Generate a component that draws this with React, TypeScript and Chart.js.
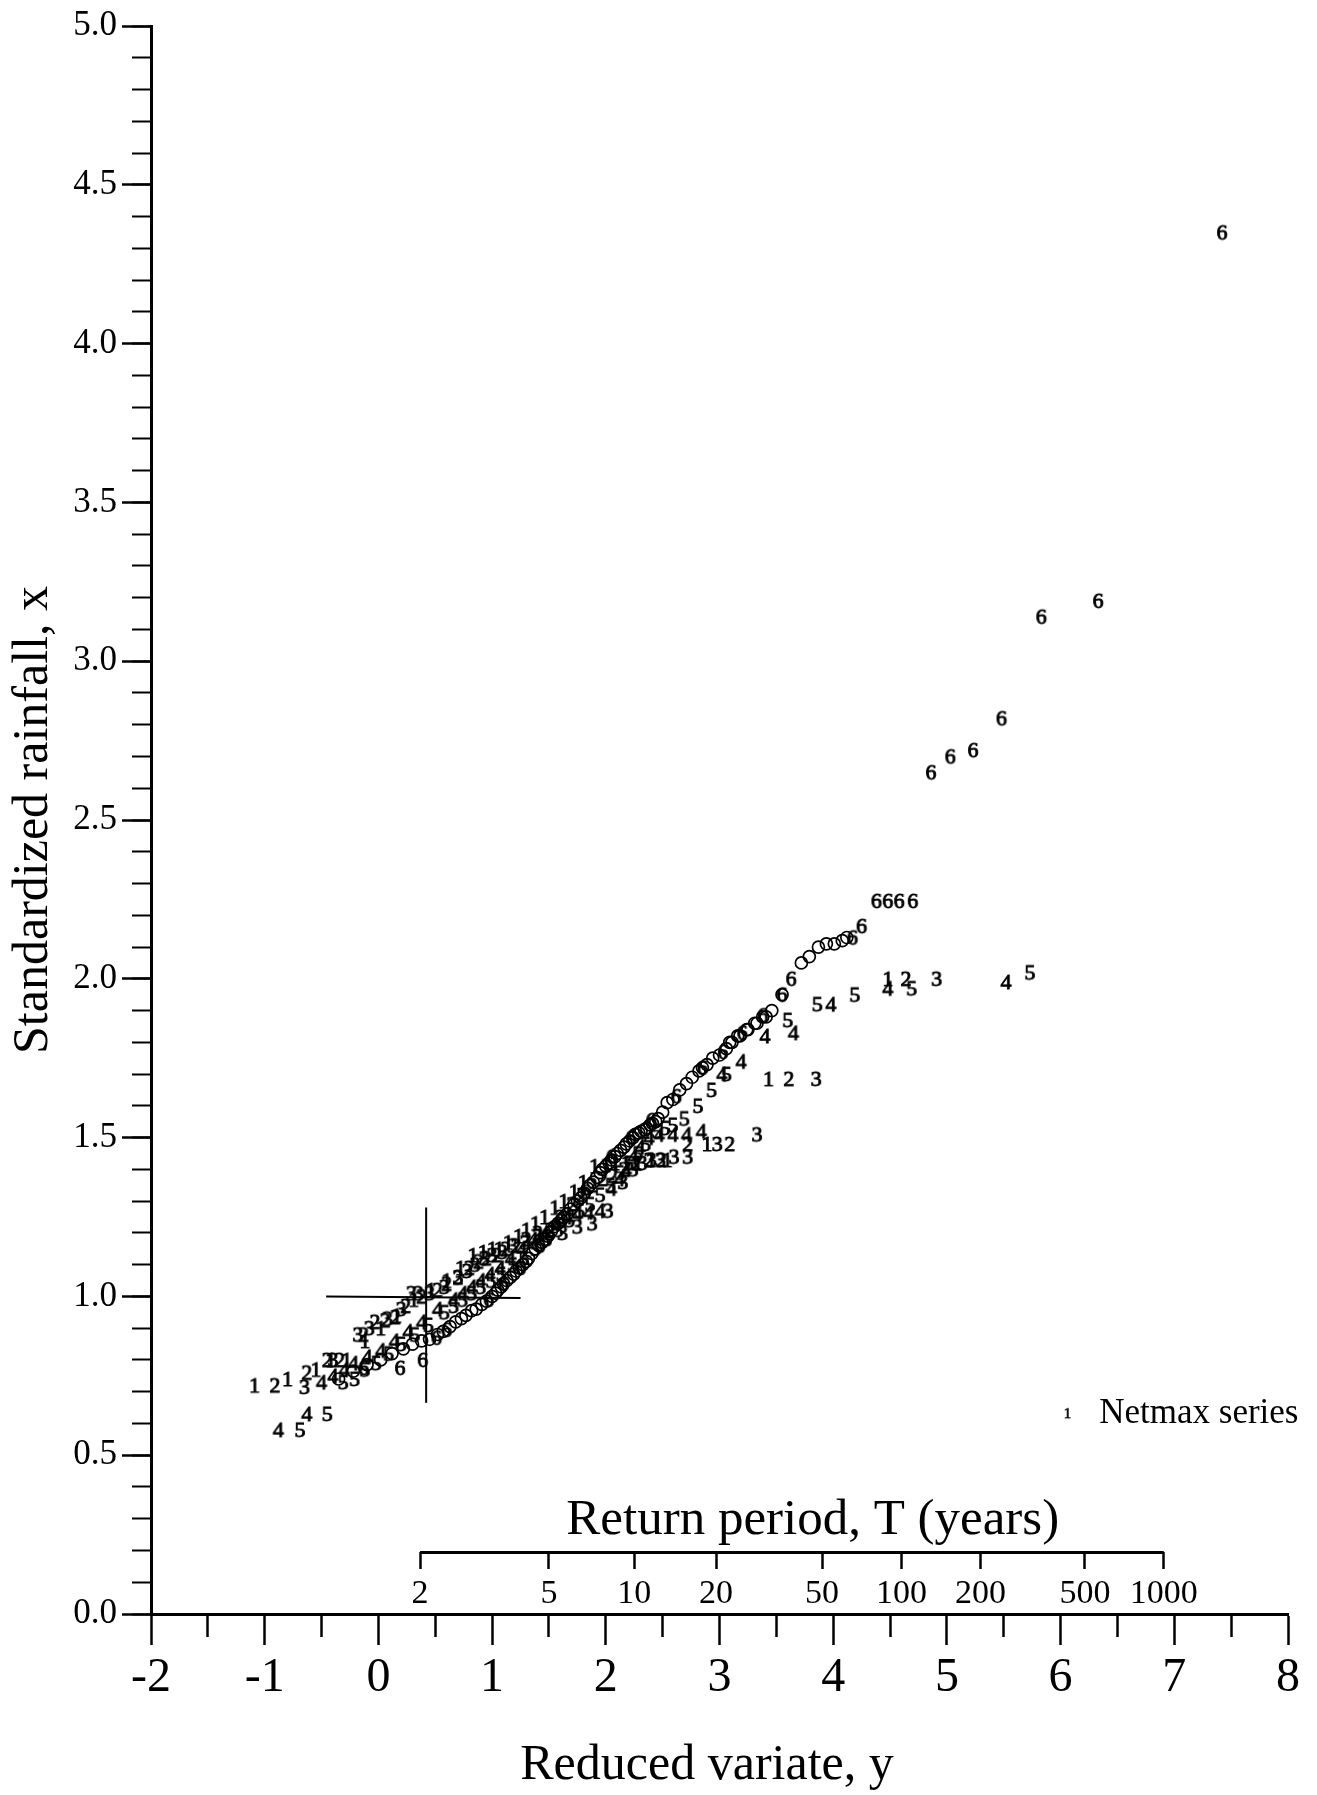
import React, { useEffect, useRef } from "react";
import { Chart, registerables } from "chart.js";

Chart.register(...registerables);

type P = [number, number];

// ---- data (reduced variate y, standardized rainfall x) ----
const series1: P[] = [
  [-1.09, 0.72], [-0.8, 0.74], [-0.55, 0.77], [-0.42, 0.8], [-0.28, 0.8], [-0.12, 0.86], [0.02, 0.9],
  [0.16, 0.94], [0.31, 0.99], [0.46, 1.02], [0.6, 1.05], [0.72, 1.09], [0.83, 1.13], [0.92, 1.14],
  [1.0, 1.15], [1.06, 1.15], [1.14, 1.17], [1.23, 1.19], [1.3, 1.21], [1.38, 1.23], [1.46, 1.25],
  [1.55, 1.28], [1.63, 1.3], [1.72, 1.33], [1.8, 1.36], [1.9, 1.41], [2.0, 1.415], [2.08, 1.42],
  [2.18, 1.42], [2.28, 1.42], [2.4, 1.43], [2.54, 1.43], [2.89, 1.48], [3.43, 1.685], [4.48, 2.0],
];
const series2: P[] = [
  [-0.91, 0.72], [-0.63, 0.76], [-0.45, 0.8], [-0.34, 0.8], [-0.13, 0.88], [-0.03, 0.92], [0.06, 0.925],
  [0.15, 0.935], [0.24, 0.97], [0.38, 1.0], [0.52, 1.02], [0.6, 1.04], [0.7, 1.06], [0.8, 1.09],
  [0.88, 1.11], [0.95, 1.12], [1.04, 1.13], [1.12, 1.15], [1.21, 1.16], [1.3, 1.18], [1.4, 1.2],
  [1.51, 1.21], [1.6, 1.25], [1.7, 1.29], [1.79, 1.32], [1.88, 1.35], [1.97, 1.37], [2.06, 1.38],
  [2.16, 1.4], [2.27, 1.42], [2.38, 1.43], [2.49, 1.43], [2.72, 1.48], [3.09, 1.48], [3.61, 1.685],
  [4.64, 2.0],
];
const series3: P[] = [
  [-0.65, 0.715], [-0.4, 0.8], [-0.18, 0.88], [-0.08, 0.9], [0.08, 0.93], [0.2, 0.96], [0.29, 1.01],
  [0.35, 1.01], [0.45, 1.01], [0.58, 1.03], [0.7, 1.06], [0.78, 1.08], [0.85, 1.1], [0.93, 1.12],
  [1.0, 1.13], [1.09, 1.14], [1.18, 1.16], [1.29, 1.17], [1.4, 1.19], [1.51, 1.2], [1.62, 1.2],
  [1.75, 1.22], [1.88, 1.23], [2.02, 1.27], [2.15, 1.36], [2.24, 1.4], [2.32, 1.42], [2.4, 1.43],
  [2.48, 1.43], [2.6, 1.44], [2.72, 1.44], [2.98, 1.48], [3.33, 1.51], [3.85, 1.685], [4.91, 2.0],
];
const series4: P[] = [
  [-0.88, 0.58], [-0.63, 0.63], [-0.5, 0.73], [-0.4, 0.75], [-0.3, 0.77], [-0.22, 0.79], [-0.1, 0.81],
  [0.02, 0.83], [0.14, 0.86], [0.26, 0.89], [0.38, 0.92], [0.52, 0.96], [0.66, 0.99], [0.74, 1.01],
  [0.82, 1.03], [0.9, 1.05], [0.98, 1.07], [1.07, 1.09], [1.16, 1.12], [1.26, 1.15], [1.36, 1.18],
  [1.46, 1.2], [1.56, 1.23], [1.66, 1.25], [1.75, 1.26], [1.85, 1.265], [1.95, 1.27], [2.05, 1.34],
  [2.12, 1.37], [2.18, 1.4], [2.24, 1.44], [2.3, 1.47], [2.38, 1.5], [2.47, 1.51], [2.59, 1.51],
  [2.71, 1.51], [2.84, 1.52], [3.02, 1.7], [3.19, 1.74], [3.4, 1.82], [3.65, 1.83], [3.98, 1.92],
  [4.48, 1.97], [5.52, 1.99],
];
const series5: P[] = [
  [-0.69, 0.58], [-0.45, 0.63], [-0.31, 0.73], [-0.21, 0.74], [-0.12, 0.77], [-0.02, 0.79], [0.09, 0.82],
  [0.2, 0.85], [0.32, 0.88], [0.44, 0.91], [0.58, 0.95], [0.66, 0.97], [0.74, 0.99], [0.82, 1.01],
  [0.9, 1.03], [0.99, 1.05], [1.08, 1.07], [1.18, 1.1], [1.28, 1.12], [1.38, 1.15], [1.48, 1.18],
  [1.58, 1.21], [1.68, 1.24], [1.77, 1.27], [1.86, 1.29], [1.95, 1.32], [2.04, 1.35], [2.12, 1.39],
  [2.2, 1.42], [2.28, 1.45], [2.35, 1.48], [2.45, 1.52], [2.52, 1.53], [2.59, 1.54], [2.69, 1.56],
  [2.81, 1.6], [2.93, 1.65], [3.06, 1.7], [3.6, 1.87], [3.86, 1.92], [4.19, 1.95], [4.69, 1.97],
  [5.73, 2.02],
];
const series6: P[] = [
  [-0.13, 0.775], [0.19, 0.775], [0.39, 0.8], [0.51, 0.87], [0.6, 0.895], [0.97, 0.99], [1.1, 1.04],
  [1.25, 1.09], [1.42, 1.16], [1.6, 1.24], [1.82, 1.33], [2.05, 1.44], [2.22, 1.5], [2.4, 1.555],
  [2.62, 1.63], [2.85, 1.72], [3.03, 1.77], [3.2, 1.83], [3.38, 1.885], [3.55, 1.95], [3.63, 2.0],
  [4.17, 2.13], [4.25, 2.166], [4.38, 2.245], [4.48, 2.245], [4.58, 2.245], [4.7, 2.245], [4.86, 2.65],
  [5.03, 2.7], [5.23, 2.72], [5.48, 2.82], [5.83, 3.14], [6.33, 3.19], [7.42, 4.35],
];
const circlePoints: P[] = [
  [-0.35, 0.74], [-0.22, 0.765], [-0.1, 0.785], [0.02, 0.8], [0.12, 0.82], [0.22, 0.835], [0.3, 0.85],
  [0.38, 0.86], [0.45, 0.865], [0.52, 0.88], [0.57, 0.89], [0.63, 0.905], [0.68, 0.92], [0.73, 0.93],
  [0.77, 0.94], [0.82, 0.955], [0.86, 0.96], [0.91, 0.975], [0.95, 0.985], [1.0, 1.0], [1.03, 1.01],
  [1.05, 1.02], [1.08, 1.03], [1.1, 1.04], [1.13, 1.05], [1.16, 1.06], [1.19, 1.07], [1.21, 1.08],
  [1.24, 1.09], [1.27, 1.1], [1.3, 1.11], [1.32, 1.12], [1.35, 1.135], [1.38, 1.15], [1.41, 1.16],
  [1.44, 1.17], [1.47, 1.18], [1.49, 1.19], [1.52, 1.205], [1.55, 1.22], [1.58, 1.23], [1.61, 1.24],
  [1.63, 1.25], [1.66, 1.26], [1.69, 1.275], [1.72, 1.29], [1.75, 1.3], [1.78, 1.31], [1.81, 1.325],
  [1.84, 1.34], [1.86, 1.35], [1.89, 1.36], [1.92, 1.375], [1.95, 1.39], [1.97, 1.4], [2.0, 1.41],
  [2.03, 1.42], [2.05, 1.43], [2.08, 1.44], [2.1, 1.45], [2.13, 1.46], [2.16, 1.47], [2.18, 1.48],
  [2.21, 1.49], [2.24, 1.5], [2.26, 1.51], [2.29, 1.515], [2.31, 1.52], [2.34, 1.525], [2.36, 1.53],
  [2.39, 1.54], [2.41, 1.545], [2.44, 1.55], [2.46, 1.56], [2.5, 1.58], [2.54, 1.61], [2.59, 1.62],
  [2.65, 1.65], [2.71, 1.67], [2.76, 1.69], [2.82, 1.71], [2.85, 1.72], [2.89, 1.73], [2.94, 1.75],
  [3.0, 1.76], [3.06, 1.78], [3.09, 1.8], [3.11, 1.8], [3.16, 1.82], [3.18, 1.82], [3.24, 1.84],
  [3.25, 1.84], [3.31, 1.86], [3.33, 1.86], [3.38, 1.88], [3.41, 1.88], [3.46, 1.9], [3.55, 1.95],
  [3.72, 2.05], [3.79, 2.07], [3.87, 2.1], [3.94, 2.11], [4.01, 2.11], [4.08, 2.12], [4.12, 2.13],
];
const crossVertical: P[] = [[0.42, 0.665], [0.42, 1.28]];
const crossHorizontal: P[] = [[-0.46, 1.0], [1.25, 0.995]];

// ---- axes ----
const xMajorTicks = [-2, -1, 0, 1, 2, 3, 4, 5, 6, 7, 8];
const xMinorTicks = [-1.5, -0.5, 0.5, 1.5, 2.5, 3.5, 4.5, 5.5, 6.5, 7.5];
const yMajorTicks = [0, 0.5, 1, 1.5, 2, 2.5, 3, 3.5, 4, 4.5, 5];
const yMinorTicks = Array.from({ length: 51 }, (_, i) => +(i * 0.1).toFixed(1));
const returnPeriods = [2, 5, 10, 20, 50, 100, 200, 500, 1000];
const returnPeriodLabels = ["2", "5", "10", "20", "50", "100", "200", "500", "1000"];
const returnAxisLevel = 0.194;
const returnTitleCenter = 3.82;
const xTitleCenter = 2.89;
const gumbel = (T: number) => -Math.log(-Math.log(1 - 1 / T));
const returnVariates = returnPeriods.map(gumbel);
const returnAxisLine: P[] = [
  [returnVariates[0], returnAxisLevel],
  [returnVariates[returnVariates.length - 1], returnAxisLevel],
];

const xTitle = "Reduced variate, y";
const yTitle = "Standardized rainfall, x";
const returnTitle = "Return period, T (years)";
const legendLabel = "Netmax series";

const FONT = "'Liberation Serif', 'Times New Roman', serif";

function glyph(ch: string, size: number, stroke: number): HTMLCanvasElement {
  const c = document.createElement("canvas");
  const w = Math.ceil(size * 0.7);
  const h = Math.ceil(size * 1.0);
  c.width = w;
  c.height = h;
  const g = c.getContext("2d")!;
  g.font = `${size}px ${FONT}`;
  g.fillStyle = "#000";
  g.strokeStyle = "#000";
  g.lineWidth = stroke;
  g.textAlign = "center";
  g.textBaseline = "alphabetic";
  const base = h / 2 + size * 0.338;
  g.fillText(ch, w / 2, base);
  g.strokeText(ch, w / 2, base);
  return c;
}

const toXY = (arr: P[]) => arr.map(([x, y]) => ({ x, y }));

export default function App() {
  const ref = useRef<HTMLCanvasElement>(null);

  useEffect(() => {
    const canvas = ref.current;
    if (!canvas) return;

    const digitSets: [string, P[]][] = [
      ["1", series1],
      ["2", series2],
      ["3", series3],
      ["4", series4],
      ["5", series5],
      ["6", series6],
    ];

    const digitDatasets = digitSets.map(([ch, arr]) => ({
      type: "scatter" as const,
      label: "Series " + ch,
      data: toXY(arr),
      pointStyle: glyph(ch, 22, 0.9),
      pointRadius: 7,
      showLine: false,
      clip: false as const,
    }));

    const lineDs = (arr: P[], w: number) => ({
      type: "line" as const,
      data: toXY(arr),
      borderColor: "#000",
      borderWidth: w,
      pointRadius: 0,
      fill: false,
      tension: 0,
      showLine: true,
      clip: false as const,
    });

    const legendGlyph = glyph("1", 15, 0.6);

    const overlay = {
      id: "overlay",
      afterDraw(chart: any) {
        const { ctx, scales } = chart;
        const sx = scales.x;
        const sy = scales.y;
        ctx.save();
        ctx.fillStyle = "#000";
        ctx.textBaseline = "alphabetic";
        ctx.textAlign = "center";
        ctx.font = `51px ${FONT}`;
        ctx.fillText(
          returnTitle,
          sx.getPixelForValue(returnTitleCenter),
          sy.getPixelForValue(returnAxisLevel) - 18
        );
        // x axis title
        ctx.font = `50px ${FONT}`;
        ctx.textBaseline = "middle";
        ctx.fillText(xTitle, sx.getPixelForValue(xTitleCenter), chart.height - 29);
        ctx.textBaseline = "alphabetic";
        // legend
        const lx = sx.getPixelForValue(6.06);
        const ly = sy.getPixelForValue(0.634);
        ctx.drawImage(legendGlyph, lx - legendGlyph.width / 2, ly - legendGlyph.height / 2);
        ctx.textAlign = "left";
        ctx.font = `35px ${FONT}`;
        ctx.fillText(legendLabel, sx.getPixelForValue(6.34), sy.getPixelForValue(0.602));
        ctx.restore();
      },
    };

    const tickFont = (size: number) => ({ family: FONT, size });

    const chart = new Chart(canvas, {
      type: "scatter",
      data: {
        datasets: [
          ...digitDatasets,
          {
            type: "scatter",
            label: "o",
            data: toXY(circlePoints),
            pointStyle: "circle",
            pointRadius: 6,
            borderColor: "#000",
            borderWidth: 1.7,
            backgroundColor: "rgba(0,0,0,0)",
            clip: false,
          },
          lineDs(crossVertical, 2),
          lineDs(crossHorizontal, 2),
          lineDs(returnAxisLine, 3),
        ] as any,
      },
      plugins: [overlay],
      options: {
        animation: false,
        responsive: false,
        devicePixelRatio: 1,
        events: [],
        layout: { padding: { top: 22, right: 29, left: 0, bottom: 0 } },
        plugins: { legend: { display: false }, tooltip: { enabled: false } },
        scales: {
          x: {
            type: "linear",
            position: "bottom",
            min: -2,
            max: 8,
            afterBuildTicks: (s: any) => {
              s.ticks = xMajorTicks.map((v) => ({ value: v }));
            },
            afterFit: (s: any) => {
              s.height = 181;
            },
            grid: {
              display: true,
              drawOnChartArea: false,
              drawTicks: true,
              tickLength: 31,
              tickWidth: 2.5,
              tickColor: "#000",
              color: "#000",
            },
            border: { display: true, color: "#000", width: 3 },
            ticks: {
              autoSkip: false,
              maxRotation: 0,
              padding: 5,
              color: "#000",
              font: tickFont(48),
              callback: (v: any) => String(v),
            },
            title: { display: false },
          },
          y: {
            type: "linear",
            position: "left",
            min: 0,
            max: 5,
            afterBuildTicks: (s: any) => {
              s.ticks = yMajorTicks.map((v) => ({ value: v }));
            },
            afterFit: (s: any) => {
              s.width = 151;
            },
            grid: {
              display: true,
              drawOnChartArea: false,
              drawTicks: true,
              tickLength: 29,
              tickWidth: 2.5,
              tickColor: "#000",
              color: "#000",
            },
            border: { display: true, color: "#000", width: 3 },
            ticks: {
              autoSkip: false,
              padding: 5,
              color: "#000",
              font: tickFont(35),
              callback: (v: any) => Number(v).toFixed(1),
            },
            title: {
              display: true,
              text: yTitle,
              color: "#000",
              font: { family: FONT, size: 50 },
              padding: { top: 4, bottom: 0 },
            },
          },
          xm: {
            type: "linear",
            axis: "x",
            position: { y: 0 } as any,
            min: -2,
            max: 8,
            afterBuildTicks: (s: any) => {
              s.ticks = xMinorTicks.map((v) => ({ value: v }));
            },
            grid: {
              display: true,
              drawOnChartArea: false,
              drawTicks: true,
              tickLength: 23,
              tickWidth: 2.5,
              tickColor: "#000",
            },
            border: { display: false },
            ticks: { display: false, autoSkip: false },
          },
          ym: {
            type: "linear",
            axis: "y",
            position: { x: -2 } as any,
            min: 0,
            max: 5,
            afterBuildTicks: (s: any) => {
              s.ticks = yMinorTicks.map((v) => ({ value: v }));
            },
            grid: {
              display: true,
              drawOnChartArea: false,
              drawTicks: true,
              tickLength: 19,
              tickWidth: 2,
              tickColor: "#000",
            },
            border: { display: false },
            ticks: { display: false, autoSkip: false },
          },
          xT: {
            type: "linear",
            axis: "x",
            position: { y: returnAxisLevel } as any,
            min: -2,
            max: 8,
            afterBuildTicks: (s: any) => {
              s.ticks = returnVariates.map((v) => ({ value: v }));
            },
            grid: {
              display: true,
              drawOnChartArea: false,
              drawTicks: true,
              tickLength: 17,
              tickWidth: 2.5,
              tickColor: "#000",
            },
            border: { display: false },
            ticks: {
              autoSkip: false,
              maxRotation: 0,
              padding: 4,
              color: "#000",
              font: tickFont(34),
              callback: (v: any) => {
                const i = returnVariates.findIndex((t) => Math.abs(t - Number(v)) < 1e-6);
                return i >= 0 ? returnPeriodLabels[i] : "";
              },
            },
          },
        } as any,
      },
    });

    return () => chart.destroy();
  }, []);

  return (
    <div
      style={{
        position: "absolute",
        left: 0,
        top: 0,
        width: 1317,
        height: 1795,
        background: "#fff",
      }}
    >
      <canvas
        ref={ref}
        width={1317}
        height={1795}
        style={{ display: "block", width: 1317, height: 1795 }}
      />
    </div>
  );
}
